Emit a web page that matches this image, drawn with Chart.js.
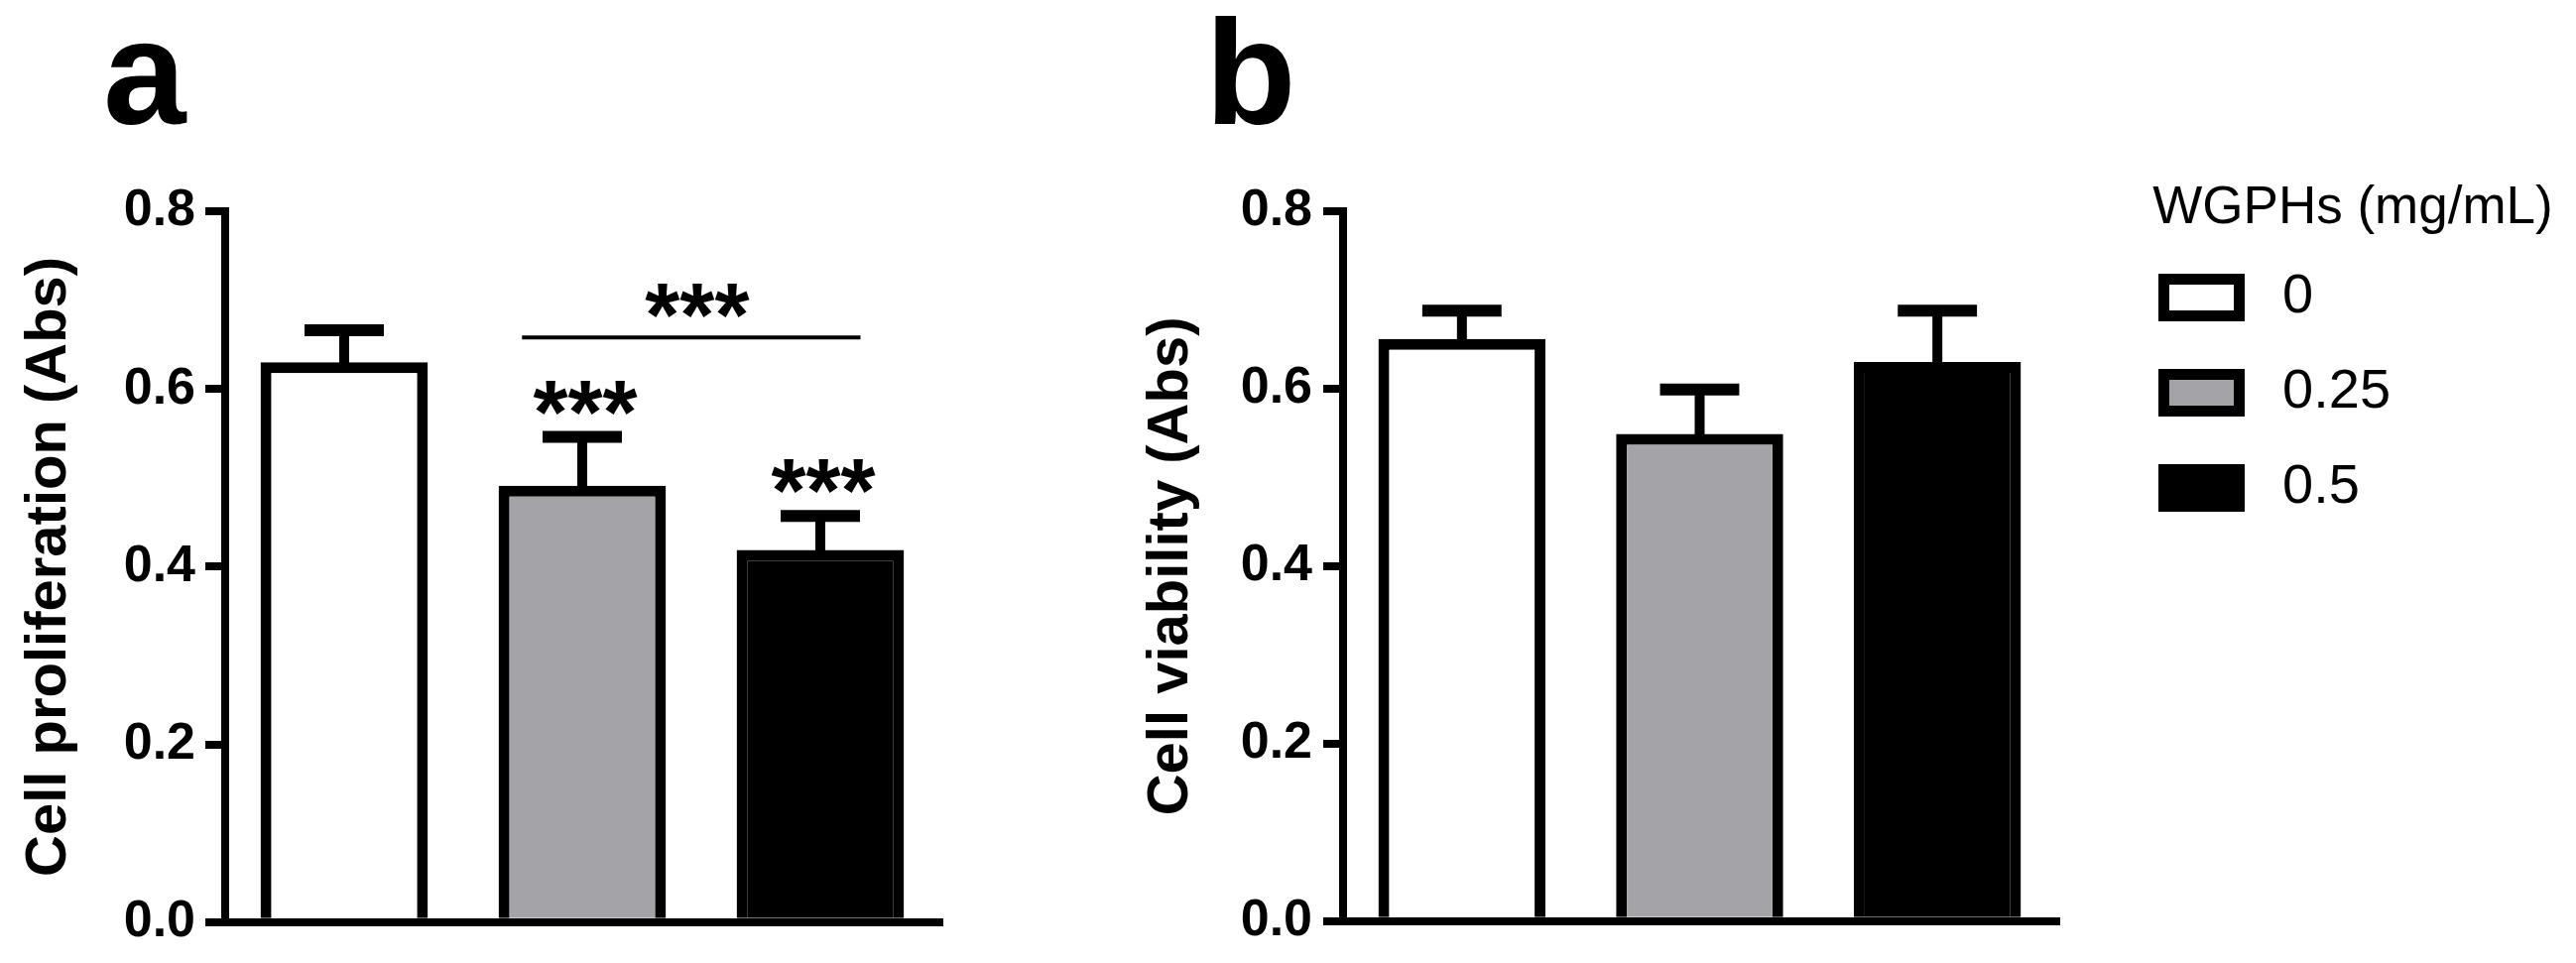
<!DOCTYPE html>
<html>
<head>
<meta charset="utf-8">
<script src="https://cdn.jsdelivr.net/npm/chart.js@4.4.0/dist/chart.umd.min.js"></script>
<style>
  html, body { margin: 0; padding: 0; background: #fff; }
  body { width: 2597px; height: 971px; position: relative; overflow: hidden; }
  canvas { position: absolute; top: 0; }
  #ca { left: 0; }
  #cb { left: 1150px; }
</style>
</head>
<body>
<canvas id="ca" width="1150" height="971"></canvas>
<canvas id="cb" width="1447" height="971"></canvas>
<script>
// ---------- data ----------
const categories = [''];
const seriesLabels = ['0', '0.25', '0.5'];
const seriesColors = ['#ffffff', '#a4a3a7', '#000000'];
const proliferationMeans = [0.630, 0.491, 0.419];
const proliferationErr = [0.036, 0.055, 0.038];
const viabilityMeans = [0.656, 0.549, 0.630];
const viabilityErr = [0.032, 0.050, 0.058];
const proliferationStars = ['', '***', '***'];
const bracketStars = '***';
const bracketLevel = 0.658;
const yTickLabels = ['0.0', '0.2', '0.4', '0.6', '0.8'];
const legendTitle = 'WGPHs (mg/mL)';

const FONT = "'Liberation Sans', Arial, Helvetica, sans-serif";
Chart.defaults.font.family = FONT;
Chart.defaults.color = '#000';

function makeDatasets(means) {
  return seriesLabels.map((lab, i) => ({
    label: lab,
    data: [means[i]],
    backgroundColor: seriesColors[i],
    borderColor: '#000',
    borderWidth: 11,
    borderSkipped: 'start',
    barPercentage: 0.703,
    categoryPercentage: 1.0
  }));
}

const errorBarPlugin = {
  id: 'errorBars',
  afterDatasetsDraw(chart, args, opts) {
    const ctx = chart.ctx;
    const y = chart.scales.y;
    ctx.save();
    ctx.strokeStyle = '#000';
    ctx.fillStyle = '#000';
    ctx.lineCap = 'butt';
    const tops = [];
    chart.data.datasets.forEach((ds, i) => {
      const meta = chart.getDatasetMeta(i);
      meta.data.forEach((bar, j) => {
        const v = ds.data[j];
        const e = opts.errors[i];
        const yTop = y.getPixelForValue(v + e);
        const half = bar.width * 0.237;
        ctx.lineWidth = 10;
        ctx.beginPath(); ctx.moveTo(bar.x, bar.y + 6); ctx.lineTo(bar.x, yTop); ctx.stroke();
        ctx.lineWidth = 12;
        ctx.beginPath(); ctx.moveTo(bar.x - half, yTop); ctx.lineTo(bar.x + half, yTop); ctx.stroke();
        tops[i] = {x: bar.x, y: yTop, w: bar.width};
        const star = opts.stars ? opts.stars[i] : '';
        if (star) {
          ctx.font = 'bold 90px ' + FONT;
          ctx.textAlign = 'center';
          ctx.textBaseline = 'alphabetic';
          ctx.fillText(star, bar.x + 3, yTop + 6);
        }
      });
    });
    if (opts.bracket) {
      const b = opts.bracket;
      const a1 = tops[b.from], a2 = tops[b.to];
      const ly = y.getPixelForValue(b.level);
      const x1 = a1.x - a1.w * 0.36, x2 = a2.x + a2.w * 0.24;
      ctx.lineWidth = 4;
      ctx.beginPath(); ctx.moveTo(x1, ly); ctx.lineTo(x2, ly); ctx.stroke();
      ctx.font = 'bold 90px ' + FONT;
      ctx.textAlign = 'center';
      ctx.textBaseline = 'alphabetic';
      ctx.fillText(b.text, (x1 + x2) / 2 + 6, ly + 9);
    }
    ctx.restore();
  }
};

const panelLabelPlugin = {
  id: 'panelLabel',
  afterDraw(chart, args, opts) {
    const ctx = chart.ctx;
    ctx.save();
    ctx.font = 'bold 150px ' + FONT;
    ctx.fillStyle = '#000';
    ctx.textAlign = 'left';
    ctx.textBaseline = 'alphabetic';
    ctx.fillText(opts.text, opts.x, opts.y);
    ctx.restore();
  }
};

const legendPlacePlugin = {
  id: 'legendPlace',
  afterLayout(chart, args, opts) {
    const lg = chart.legend;
    if (!lg || !opts.enabled) return;
    lg.left = opts.left; lg.top = opts.top;
    lg.width = opts.width; lg.right = opts.left + opts.width;
    lg.bottom = opts.bottom; lg.height = opts.bottom - opts.top;
  }
};

function yScale(title, titlePad, width, labelPad) {
  return {
    type: 'linear',
    min: 0, max: 0.8,
    ticks: {
      stepSize: 0.2,
      font: { size: 52, weight: 'bold' },
      color: '#000',
      padding: labelPad,
      callback: (v, idx) => yTickLabels[idx]
    },
    grid: { display: true, drawOnChartArea: false, drawTicks: true, tickLength: 20, lineWidth: 8, color: '#000' },
    border: { display: true, width: 8, color: '#000' },
    title: {
      display: true, text: title, color: '#000',
      font: { size: 58, weight: 'bold', lineHeight: 1 },
      padding: { top: titlePad, bottom: 0 }
    },
    afterFit: (s) => { s.width = width; }
  };
}
function xScale() {
  return {
    type: 'category',
    offset: true,
    ticks: { display: false },
    grid: { display: true, drawOnChartArea: false, drawTicks: false, lineWidth: 8, color: '#000' },
    border: { display: true, width: 8, color: '#000' },
    afterFit: (s) => { s.height = 38; }
  };
}

new Chart(document.getElementById('ca'), {
  type: 'bar',
  data: { labels: categories, datasets: makeDatasets(proliferationMeans) },
  options: {
    responsive: false, animation: false, events: [],
    layout: { padding: { top: 213, left: 0, right: 203, bottom: 0 } },
    scales: { x: xScale(), y: yScale('Cell proliferation (Abs)', 21, 227, 10) },
    plugins: {
      legend: { display: false }, tooltip: { enabled: false },
      errorBars: {
        errors: proliferationErr, stars: proliferationStars,
        bracket: { from: 1, to: 2, level: bracketLevel, text: bracketStars }
      },
      panelLabel: { text: 'a', x: 104, y: 125 },
      legendPlace: { enabled: false }
    }
  },
  plugins: [errorBarPlugin, panelLabelPlugin, legendPlacePlugin]
});

new Chart(document.getElementById('cb'), {
  type: 'bar',
  data: { labels: categories, datasets: makeDatasets(viabilityMeans) },
  options: {
    responsive: false, animation: false, events: [],
    layout: { padding: { top: 213, left: 0, right: 424, bottom: 0 } },
    scales: { x: xScale(), y: yScale('Cell viability (Abs)', 2, 204, 11) },
    plugins: {
      legend: {
        display: true, position: 'right', align: 'start', maxWidth: 100,
        title: {
          display: true, text: legendTitle, color: '#000', position: 'center',
          font: { size: 53, lineHeight: 0.915 }, padding: { top: 0, bottom: 0 }
        },
        labels: {
          boxWidth: 76, boxHeight: 37, padding: 40, color: '#000',
          font: { size: 56 },
          generateLabels: (chart) => Chart.defaults.plugins.legend.labels.generateLabels(chart)
            .map(item => Object.assign(item, { text: ' ' + item.text }))
        }
      },
      tooltip: { enabled: false },
      errorBars: { errors: viabilityErr },
      panelLabel: { text: 'b', x: 65, y: 125 },
      legendPlace: { enabled: true, left: 991.5, top: 183.5, width: 461, bottom: 971 }
    }
  },
  plugins: [errorBarPlugin, panelLabelPlugin, legendPlacePlugin]
});
</script>
</body>
</html>
